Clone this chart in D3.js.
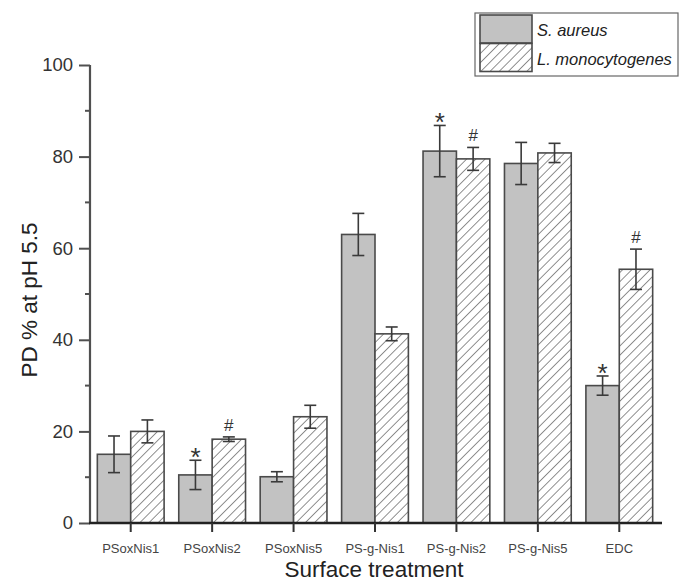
<!DOCTYPE html>
<html>
<head>
<meta charset="utf-8">
<script src="https://cdn.jsdelivr.net/npm/d3@7"></script>
<style>
  html, body { margin: 0; padding: 0; background: #fff; }
  svg { display: block; font-family: "Liberation Sans", Arial, sans-serif; }
</style>
</head>
<body>
<svg id="chart" width="680" height="583"></svg>
<script>
// Percentage of detachment (PD) at pH 5.5 per surface treatment
const categories = ["PSoxNis1", "PSoxNis2", "PSoxNis5", "PS-g-Nis1", "PS-g-Nis2", "PS-g-Nis5", "EDC"];
const seriesNames = ["S. aureus", "L. monocytogenes"];
const aureusValues = [15.0, 10.5, 10.1, 63.0, 81.2, 78.5, 30.0];
const aureusErrors = [4.0, 3.2, 1.1, 4.6, 5.6, 4.6, 2.1];
const listeriaValues = [20.0, 18.3, 23.2, 41.3, 79.5, 80.8, 55.4];
const listeriaErrors = [2.5, 0.5, 2.5, 1.5, 2.5, 2.1, 4.4];
const aureusMarks = ["", "*", "", "", "*", "", "*"];
const listeriaMarks = ["", "#", "", "", "#", "", "#"];
const yTicks = [0, 20, 40, 60, 80, 100];
const yMinorTicks = [10, 30, 50, 70, 90];

const svg = d3.select("#chart");
const axisColor = "#505050";
const textColor = "#333";

const x0 = d3.scaleBand().domain(categories).range([90, 660]).paddingInner(0.18).paddingOuter(0.09);
const x1 = d3.scaleBand().domain(seriesNames).range([0, x0.bandwidth()]);
const y = d3.scaleLinear().domain([0, 100]).range([523, 65]);

// hatch pattern for the second series
const defs = svg.append("defs");
const pat = defs.append("pattern")
  .attr("id", "hatch").attr("patternUnits", "userSpaceOnUse")
  .attr("width", 6.5).attr("height", 6.5)
  .attr("patternTransform", "rotate(45)");
pat.append("rect").attr("width", 6.5).attr("height", 6.5).attr("fill", "#fff");
pat.append("line").attr("x1", 0).attr("y1", 0).attr("x2", 0).attr("y2", 6.5)
  .attr("stroke", "#555").attr("stroke-width", 1.3);

const rows = categories.map((c, i) => [
  { cat: c, s: seriesNames[0], v: aureusValues[i], e: aureusErrors[i], m: aureusMarks[i] },
  { cat: c, s: seriesNames[1], v: listeriaValues[i], e: listeriaErrors[i], m: listeriaMarks[i] }
]).flat();

const fillFor = s => s === seriesNames[0] ? "#c2c2c2" : "url(#hatch)";

// bars
svg.append("g").selectAll("rect").data(rows).join("rect")
  .attr("x", d => x0(d.cat) + x1(d.s))
  .attr("y", d => y(d.v))
  .attr("width", x1.bandwidth())
  .attr("height", d => y(0) - y(d.v))
  .attr("fill", d => fillFor(d.s))
  .attr("stroke", "#4a4a4a").attr("stroke-width", 1.6);

// error bars
const err = svg.append("g").attr("stroke", "#3a3a3a").attr("stroke-width", 1.6);
rows.forEach(d => {
  const cx = x0(d.cat) + x1(d.s) + x1.bandwidth() / 2;
  const top = y(d.v + d.e), bot = y(d.v - d.e);
  err.append("line").attr("x1", cx).attr("x2", cx).attr("y1", top).attr("y2", bot);
  err.append("line").attr("x1", cx - 6).attr("x2", cx + 6).attr("y1", top).attr("y2", top);
  err.append("line").attr("x1", cx - 6).attr("x2", cx + 6).attr("y1", bot).attr("y2", bot);
});

// significance marks
svg.append("g").selectAll("text").data(rows.filter(d => d.m)).join("text")
  .attr("x", d => x0(d.cat) + x1(d.s) + x1.bandwidth() / 2)
  .attr("y", d => y(d.v + d.e) - (d.m === "*" ? -6 : 6))
  .attr("text-anchor", "middle")
  .attr("font-size", d => d.m === "*" ? 26 : 17)
  .attr("fill", "#333")
  .text(d => d.m);

// y axis
const yAxis = svg.append("g").attr("transform", "translate(90,0)")
  .call(d3.axisLeft(y).tickValues(yTicks).tickSize(11).tickPadding(6).tickFormat(d3.format("d")));
yAxis.append("g").selectAll("line").data(yMinorTicks).join("line")
  .attr("x1", -5).attr("x2", 0).attr("y1", d => y(d)).attr("y2", d => y(d))
  .attr("stroke", axisColor).attr("stroke-width", 2);
yAxis.select(".domain").attr("stroke", axisColor).attr("stroke-width", 2.2).attr("d", `M0,${y(100)}V${y(0)}`);
yAxis.selectAll(".tick line").attr("stroke", axisColor).attr("stroke-width", 2);
yAxis.selectAll(".tick text").attr("font-size", 18.5).attr("fill", textColor).attr("font-family", "Liberation Sans, Arial, sans-serif");

// x axis
const xAxis = svg.append("g").attr("transform", `translate(0,${y(0)})`)
  .call(d3.axisBottom(x0).tickSize(9).tickPadding(12).tickSizeOuter(0));
xAxis.select(".domain").attr("stroke", "#222").attr("stroke-width", 2.4).attr("d", "M89,0H662");
xAxis.selectAll(".tick line").attr("stroke", "#333").attr("stroke-width", 2);
xAxis.selectAll(".tick").attr("transform", d => `translate(${x0(d) + x0.bandwidth() / 2},0)`);
xAxis.selectAll(".tick text").attr("font-size", 13).attr("fill", "#444").attr("font-family", "Liberation Sans, Arial, sans-serif");

// axis titles
svg.append("text").attr("x", 374).attr("y", 577).attr("text-anchor", "middle")
  .attr("font-size", 22.5).attr("fill", "#222").text("Surface treatment");
svg.append("text").attr("transform", "translate(37,300) rotate(-90)").attr("text-anchor", "middle")
  .attr("font-size", 22.5).attr("fill", "#222").text("PD % at pH 5.5");

// legend
const lg = svg.append("g");
lg.append("rect").attr("x", 475).attr("y", 13).attr("width", 203).attr("height", 63)
  .attr("fill", "#fff").attr("stroke", "#666").attr("stroke-width", 1.2);
seriesNames.forEach((s, i) => {
  lg.append("rect").attr("x", 480).attr("y", 15 + i * 28.5).attr("width", 52).attr("height", 28)
    .attr("fill", fillFor(s)).attr("stroke", "#4a4a4a").attr("stroke-width", 1.6);
  lg.append("text").attr("x", 537).attr("y", 36 + i * 28.5)
    .attr("font-size", 16.5).attr("font-style", "italic").attr("fill", "#222").text(s);
});
</script>
</body>
</html>
